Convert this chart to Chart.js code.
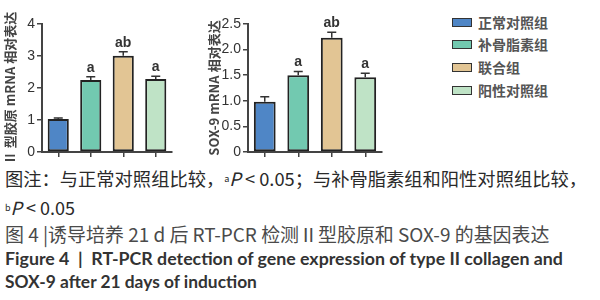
<!DOCTYPE html>
<html>
<head>
<meta charset="utf-8">
<script src="https://cdn.jsdelivr.net/npm/chart.js@4.4.1/dist/chart.umd.min.js"></script>
<style>
  body { margin: 0; width: 600px; height: 300px; background: #fff; position: relative; overflow: hidden; }
  .box { position: absolute; }
  .txt { position: absolute; left: 5px; white-space: nowrap; color: #333; }
  .cn { font-family: "Noto Sans CJK SC", sans-serif; }
  .en { font-family: Lato, sans-serif; font-weight: 700; font-size: 16.5px; line-height: 22px; color: #333; }
  sup { font-size: 0.5em; vertical-align: 0.4em; line-height: 0; }
  #legend .row { position: absolute; left: 0; height: 20px; display: flex; align-items: center; }
  #legend .sw { width: 18px; height: 7px; border: 1.5px solid #333; margin-right: 6px; }
  #legend .lb { font-family: "Noto Sans CJK SC", sans-serif; font-weight: 700; font-size: 14px; color: #555; }
</style>
</head>
<body>
<div class="box" style="left:0;top:0;width:185px;height:165px"><canvas id="chartCol"></canvas></div>
<div class="box" style="left:190px;top:0;width:200px;height:165px"><canvas id="chartSox"></canvas></div>
<div class="box" id="legend" style="left:452px;top:0;width:140px;height:110px"></div>

<div class="txt cn" data-w="582" style="top:166px;font-size:18px;line-height:24px;color:#2a2a2a">图注：与正常对照组比较，<sup>a</sup><i>P</i> &lt; 0.05；与补骨脂素组和阳性对照组比较，</div>
<div class="txt cn" style="top:195px;font-size:18px;line-height:24px;color:#2a2a2a"><sup>b</sup><i>P</i> &lt; 0.05</div>
<div class="txt cn" data-w="545" style="top:222px;font-size:17px;line-height:24px;color:#4a4a4a">图 4 |诱导培养 21 d 后 RT-PCR 检测Ⅱ型胶原和 SOX-9 的基因表达</div>
<div class="txt en" data-w="558" style="top:247px">Figure 4 &nbsp;| &nbsp;RT-PCR detection of gene expression of type II collagen and</div>
<div class="txt en" data-w="252" style="top:271px">SOX-9 after 21 days of induction</div>

<script>
// grupos e cores
const grupos = ['正常对照组', '补骨脂素组', '联合组', '阳性对照组'];
const cores = ['#4f86c6', '#72c9b0', '#e2c594', '#bfe3c6'];

// II 型胶原 mRNA
const colMedia = [1.03, 2.25, 3.01, 2.28];
const colErro = [0.03, 0.10, 0.12, 0.09];

// SOX-9 mRNA
const soxMedia = [0.98, 1.50, 2.23, 1.46];
const soxErro = [0.10, 0.07, 0.11, 0.08];

// letras de significancia
const letras = ['', 'a', 'ab', 'a'];

const corEixo = '#444';

// barras de erro + letras acima
const errorBars = {
    id: 'errorBars',
    afterDatasetsDraw(chart, args, opts) {
        const ctx = chart.ctx;
        const meta = chart.getDatasetMeta(0);
        const y = chart.scales.y;
        ctx.save();
        meta.data.forEach((bar, i) => {
            const topo = y.getPixelForValue(opts.media[i] + opts.erro[i]);
            ctx.strokeStyle = '#333';
            ctx.lineWidth = 1.5;
            ctx.beginPath();
            ctx.moveTo(bar.x, bar.y);
            ctx.lineTo(bar.x, topo);
            ctx.moveTo(bar.x - 4.5, topo);
            ctx.lineTo(bar.x + 4.5, topo);
            ctx.stroke();
            if (letras[i]) {
                ctx.fillStyle = '#333';
                ctx.font = 'bold 14px "Liberation Sans", Arial, sans-serif';
                ctx.textAlign = 'center';
                ctx.textBaseline = 'middle';
                ctx.fillText(letras[i], bar.x, topo - 9);
            }
        });
        ctx.restore();
    }
};

function criarGrafico(id, media, erro, opc) {
    return new Chart(document.getElementById(id), {
        type: 'bar',
        data: {
            labels: grupos,
            datasets: [{
                data: media,
                backgroundColor: cores,
                borderColor: '#222',
                borderWidth: 2,
                borderSkipped: false,
                barPercentage: 0.65,
                categoryPercentage: 1
            }]
        },
        options: {
            responsive: true,
            maintainAspectRatio: false,
            animation: false,
            layout: { padding: { top: 24, right: opc.padRight, left: opc.padLeft, bottom: 0 } },
            plugins: {
                legend: { display: false },
                tooltip: { enabled: false },
                errorBars: { media, erro }
            },
            scales: {
                x: {
                    afterFit: s => { s.height = 13; },
                    ticks: { display: false },
                    grid: { drawOnChartArea: false, offset: false, tickLength: 5, color: corEixo, lineWidth: 1.5 },
                    border: { color: corEixo, width: 2 }
                },
                y: {
                    min: 0,
                    max: opc.max,
                    afterFit: s => { s.width = opc.largura; },
                    ticks: {
                        stepSize: opc.passo,
                        color: '#333',
                        padding: 2,
                        font: { family: '"Liberation Sans", Arial, sans-serif', size: 14 },
                        callback: opc.rotulo
                    },
                    grid: { drawOnChartArea: false, tickLength: 5, color: corEixo, lineWidth: 1.5 },
                    border: { color: corEixo, width: 2 },
                    title: {
                        display: true,
                        text: opc.titulo,
                        color: '#444',
                        padding: { top: 2, bottom: 0 },
                        font: { family: '"Noto Sans CJK SC", sans-serif', size: 13, weight: 'bold' }
                    }
                }
            }
        },
        plugins: [errorBars]
    });
}

criarGrafico('chartCol', colMedia, colErro, {
    max: 4, passo: 1, largura: 42, padLeft: 0, padRight: 13,
    titulo: 'Ⅱ 型胶原 mRNA 相对表达',
    rotulo: v => String(v)
});

criarGrafico('chartSox', soxMedia, soxErro, {
    max: 2.5, passo: 0.5, largura: 44, padLeft: 14, padRight: 8,
    titulo: 'SOX-9 mRNA 相对表达',
    rotulo: v => v === 0 ? '0' : v.toFixed(1)
});

// legenda
const legenda = document.getElementById('legend');
const linhas = [12, 34, 57, 80];
grupos.forEach((g, i) => {
    const row = document.createElement('div');
    row.className = 'row';
    row.style.top = linhas[i] + 'px';
    row.innerHTML = `<span class="sw" style="background:${cores[i]}"></span><span class="lb">${g}</span>`;
    legenda.appendChild(row);
});

// ajusta a largura das linhas da legenda da figura
function ajustarTextos() {
    document.querySelectorAll('.txt[data-w]').forEach(el => {
        const alvo = +el.dataset.w;
        const fs = parseFloat(getComputedStyle(el).fontSize);
        const w = el.getBoundingClientRect().width;
        if (w > 0) el.style.fontSize = (fs * alvo / w).toFixed(2) + 'px';
    });
}
ajustarTextos();
</script>
</body>
</html>
